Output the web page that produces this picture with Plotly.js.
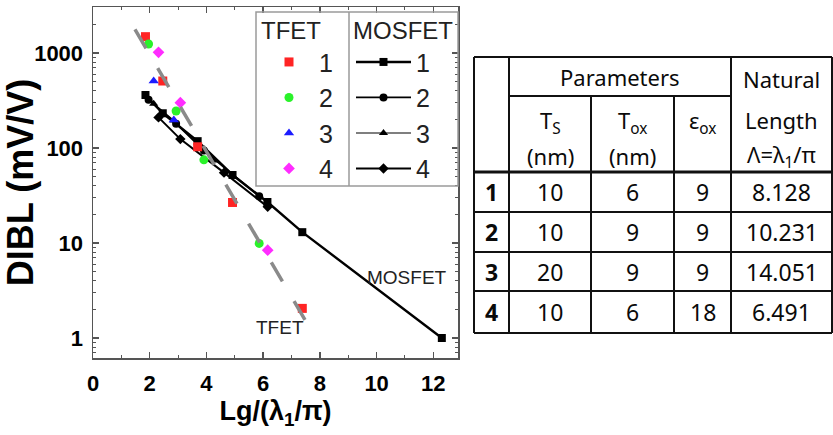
<!DOCTYPE html>
<html>
<head>
<meta charset="utf-8">
<script src="https://cdn.plot.ly/plotly-3.0.1.min.js"></script>
<style>html,body{margin:0;padding:0;background:#fff;}#chart{width:833px;height:435px;}</style>
</head>
<body>
<div id="chart"></div>
<script>
// ---------- DATA ----------
const tfetNames = ['1', '2', '3', '4'];
const tfetX1 = [1.85, 2.46, 3.69, 4.92, 7.38];
const tfetY1 = [1485, 507, 103, 26.7, 2.05];
const tfetX2 = [1.96, 2.93, 3.91, 5.86];
const tfetY2 = [1244, 245, 75, 9.9];
const tfetX3 = [2.14, 2.85];
const tfetY3 = [507, 197];
const tfetX4 = [2.31, 3.08, 6.16];
const tfetY4 = [1017, 300, 8.4];

const mosNames = ['1', '2', '3', '4'];
const mosX1 = [1.85, 2.46, 3.69, 4.92, 6.15, 7.38, 12.3];
const mosY1 = [361, 232, 118, 52, 27, 13, 1.0];
const mosX2 = [1.96, 2.93, 3.91, 5.86];
const mosY2 = [322, 180, 94, 31];
const mosX3 = [2.14, 2.85, 4.27];
const mosY3 = [292, 195, 74];
const mosX4 = [2.31, 3.08, 4.62, 6.16];
const mosY4 = [210, 124, 55, 24];

const fitX = [1.48, 7.475];
const fitY = [1775, 1.55];

// table
const rowIdx = ['1', '2', '3', '4'];
const tsVals = ['10', '10', '20', '10'];
const toxVals = ['6', '9', '9', '6'];
const eoxVals = ['9', '9', '9', '18'];
const lambdaVals = ['8.128', '10.231', '14.051', '6.491'];

// ---------- HELPERS ----------
const W = 833, H = 435;
const px = v => v / W;
const py = v => 1 - v / H;

const tfetColors = ['#ff2424', '#2af22a', '#1c1cff', '#ff2cff'];
const tfetSymbols = ['square', 'circle', 'triangle-up', 'diamond'];
const mosSymbols = ['square', 'circle', 'triangle-up', 'diamond'];
const mosWidths = [2.4, 1.7, 1.1, 2.0];

const tX = [tfetX1, tfetX2, tfetX3, tfetX4];
const tY = [tfetY1, tfetY2, tfetY3, tfetY4];
const mX = [mosX1, mosX2, mosX3, mosX4];
const mY = [mosY1, mosY2, mosY3, mosY4];

const traces = [];
for (let i = 0; i < 4; i++) {
  traces.push({
    x: mX[i], y: mY[i], name: mosNames[i], legend: 'legend2',
    type: 'scatter', mode: 'lines+markers',
    line: {color: '#000', width: mosWidths[i]},
    marker: {symbol: mosSymbols[i], size: 8, color: '#000'}
  });
}
for (let i = 0; i < 4; i++) {
  traces.push({
    x: tX[i], y: tY[i], name: tfetNames[i], legend: 'legend',
    type: 'scatter', mode: 'markers',
    marker: {symbol: tfetSymbols[i], size: 9, color: tfetColors[i]}
  });
}
traces.push({
  x: fitX, y: fitY, type: 'scatter', mode: 'lines', showlegend: false,
  line: {color: '#8a8a8a', width: 3.5, dash: '22px,23px'}
});

// ---------- TABLE SHAPES ----------
const colL = 474, colI = 509, colTs = 591, colTox = 674, colE = 731, colR = 832;
const rTop = 57, rPar = 96, rHead = 172, rows = [212, 252, 291, 333];
const shapes = [];
function ln(x0, y0, x1, y1, w, c) {
  shapes.push({type: 'line', xref: 'paper', yref: 'paper',
    x0: px(x0), y0: py(y0), x1: px(x1), y1: py(y1),
    line: {color: c || '#111', width: w || 2}});
}
// horizontals
ln(colL, rTop, colR, rTop, 2);
ln(colI, rPar, colE, rPar, 2);
ln(colL, rHead, colR, rHead, 3.2);
rows.forEach((r, k) => ln(colL, r, colR, r, k === rows.length - 1 ? 2.2 : 2));
// verticals
ln(colL, rTop, colL, rows[3], 2);
ln(colI, rTop, colI, rows[3], 2);
ln(colTs, rPar, colTs, rows[3], 2);
ln(colTox, rPar, colTox, rows[3], 2);
ln(colE, rTop, colE, rows[3], 2);
ln(colR, rTop, colR, rows[3], 2);

// legend box
shapes.push({type: 'rect', xref: 'paper', yref: 'paper',
  x0: px(256), x1: px(458), y0: py(186), y1: py(12),
  line: {color: '#9a9a9a', width: 1.5}});
ln(349, 12, 349, 186, 1.5, '#9a9a9a');

// ---------- TABLE TEXT ----------
const tFont = {family: 'Noto Sans, Open Sans, sans-serif', size: 22, color: '#0a0a0a'};
const numFont = {size: 23};
const ann = [];
function txt(x, y, t, f) {
  ann.push({xref: 'paper', yref: 'paper', x: px(x), y: py(y), text: t,
    showarrow: false, xanchor: 'center', yanchor: 'middle', font: Object.assign({}, tFont, f || {})});
}
txt((colI + colE) / 2, 77, 'Parameters');
txt((colE + colR) / 2, 79, 'Natural');
txt((colE + colR) / 2, 120, 'Length');
txt((colE + colR) / 2, 156, 'Λ=λ<sub>1</sub>/π');
txt((colI + colTs) / 2, 122, 'T<sub>S</sub>');
txt((colI + colTs) / 2, 156, '(nm)');
txt((colTs + colTox) / 2, 122, 'T<sub>ox</sub>');
txt((colTs + colTox) / 2, 156, '(nm)');
txt((colTox + colE) / 2, 122, 'ε<sub>ox</sub>');
const rowBounds = [rHead].concat(rows);
for (let k = 0; k < 4; k++) {
  const yc = (rowBounds[k] + rowBounds[k + 1]) / 2;
  txt((colL + colI) / 2, yc, '<b>' + rowIdx[k] + '</b>', numFont);
  txt((colI + colTs) / 2, yc, tsVals[k], numFont);
  txt((colTs + colTox) / 2, yc, toxVals[k], numFont);
  txt((colTox + colE) / 2, yc, eoxVals[k], numFont);
  txt((colE + colR) / 2, yc, lambdaVals[k], numFont);
}
// chart labels
const aFont = {family: 'Liberation Sans, Arial, sans-serif', size: 19, color: '#222'};
ann.push({xref: 'paper', yref: 'paper', x: px(407), y: py(277), text: 'MOSFET', showarrow: false, font: aFont});
ann.push({xref: 'paper', yref: 'paper', x: px(280), y: py(340), text: 'TFET', showarrow: false, font: aFont});

const axFont = {family: 'Liberation Sans, Arial, sans-serif', size: 22, color: '#000', weight: 'bold'};
const layout = {
  width: W, height: H,
  margin: {l: 0, r: 0, t: 0, b: 0},
  paper_bgcolor: '#fff', plot_bgcolor: '#fff',
  showlegend: true,
  xaxis: {
    domain: [93 / W, 458 / W], range: [0, 12.87], anchor: 'y',
    dtick: 2, tick0: 0, ticks: 'inside', ticklen: 6, tickwidth: 1.5, tickcolor: '#555',
    minor: {dtick: 1, ticks: 'inside', ticklen: 3, tickcolor: '#555', tickwidth: 1},
    showline: true, linecolor: '#555', linewidth: 1.5, mirror: 'allticks',
    showgrid: false, zeroline: false,
    tickfont: axFont, ticklabelstandoff: 5,
    title: {text: 'Lg/(λ<sub>1</sub>/π)', font: {family: 'Liberation Sans, Arial, sans-serif', size: 27, color: '#000', weight: 'bold'}, standoff: 4}
  },
  yaxis: {
    domain: [1 - 358 / H, 1 - 7 / H], type: 'log', range: [-0.2105, 3.484], anchor: 'x',
    dtick: 1, ticks: 'inside', ticklen: 6, tickwidth: 1.5, tickcolor: '#555',
    minor: {dtick: 'D1', ticks: 'inside', ticklen: 3, tickcolor: '#555', tickwidth: 1},
    showline: true, linecolor: '#555', linewidth: 1.5, mirror: 'allticks',
    showgrid: false, zeroline: false,
    tickfont: axFont, ticklabelstandoff: 4, exponentformat: 'none',
    title: {text: 'DIBL (mV/V)', font: {family: 'Liberation Sans, Arial, sans-serif', size: 36, color: '#000', weight: 'bold'}, standoff: 4}
  },
  legend: {
    x: px(259), y: py(8), xanchor: 'left', yanchor: 'top',
    bgcolor: 'rgba(0,0,0,0)', borderwidth: 0,
    title: {text: 'TFET', font: {family: 'Liberation Sans, Arial, sans-serif', size: 24, color: '#222'}},
    font: {family: 'Liberation Sans, Arial, sans-serif', size: 25, color: '#222'},
    itemwidth: 50, tracegroupgap: 0
  },
  legend2: {
    x: px(351), y: py(8), xanchor: 'left', yanchor: 'top',
    bgcolor: 'rgba(0,0,0,0)', borderwidth: 0,
    title: {text: 'MOSFET', font: {family: 'Liberation Sans, Arial, sans-serif', size: 24, color: '#222'}},
    font: {family: 'Liberation Sans, Arial, sans-serif', size: 25, color: '#222'},
    itemwidth: 55, tracegroupgap: 0
  },
  shapes: shapes,
  annotations: ann
};
Plotly.newPlot('chart', traces, layout, {staticPlot: true, displayModeBar: false});
</script>
</body>
</html>
